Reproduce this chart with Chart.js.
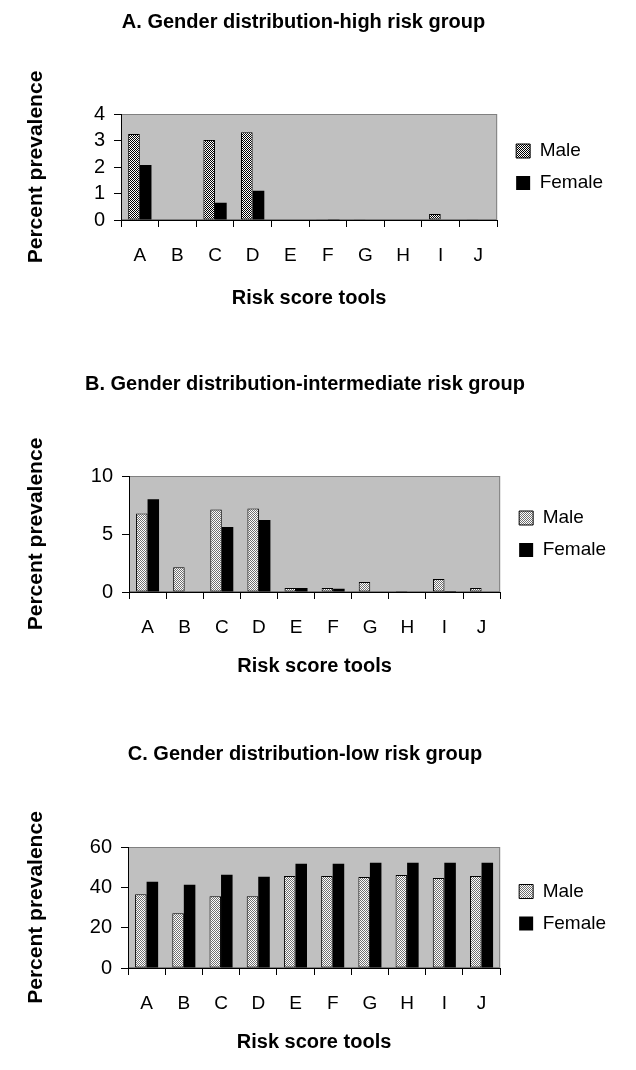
<!DOCTYPE html>
<html>
<head>
<meta charset="utf-8">
<script src="https://cdn.jsdelivr.net/npm/chart.js@4.4.1/dist/chart.umd.min.js"></script>
<style>
body { margin:0; background:#fff; width:636px; height:1070px; position:relative; overflow:hidden; }
canvas { position:absolute; left:0; }
</style>
</head>
<body>
<canvas id="chartA" width="636" height="320" style="top:0px"></canvas>
<canvas id="chartB" width="636" height="352" style="top:340px"></canvas>
<canvas id="chartC" width="636" height="368" style="top:700px"></canvas>
<script>
// risk score tools on the x axis
const tools = ['A', 'B', 'C', 'D', 'E', 'F', 'G', 'H', 'I', 'J'];

// A. high risk group (percent)
const maleHigh   = [3.25, 0, 3.02, 3.31, 0, 0.03, 0.03, 0, 0.23, 0.03];
const femaleHigh = [2.08, 0, 0.65, 1.10, 0, 0.03, 0, 0, 0, 0];

// B. intermediate risk group
const maleMid   = [6.77, 2.14, 7.11, 7.20, 0.34, 0.34, 0.86, 0.08, 1.11, 0.34];
const femaleMid = [8.00, 0, 5.60, 6.20, 0.34, 0.28, 0, 0, 0.08, 0];

// C. low risk group
const maleLow   = [36.6, 27.2, 35.6, 35.6, 45.6, 45.6, 45.1, 46.1, 44.6, 45.6];
const femaleLow = [42.8, 41.3, 46.2, 45.2, 51.7, 51.7, 52.2, 52.2, 52.2, 52.2];

// y axis ticks
const ticksHigh = [0, 1, 2, 3, 4];
const ticksMid  = [0, 5, 10];
const ticksLow  = [0, 20, 40, 60];

const FONT = "'Liberation Sans', Arial, sans-serif";

const plotBg = {
  id: 'plotBg',
  afterLayout(chart) {
    // legend sits a bit further from the plot than chart.js puts it
    chart.legend.left += 6;
    chart.legend.right += 6;
  },
  beforeDraw(chart) {
    const {ctx, chartArea: a} = chart;
    ctx.save();
    ctx.fillStyle = '#c0c0c0';
    ctx.fillRect(a.left, a.top, a.right - a.left, a.bottom - a.top);
    ctx.strokeStyle = '#808080';
    ctx.lineWidth = 1;
    ctx.strokeRect(a.left + 0.5, a.top + 0.5, a.right - a.left - 1, a.bottom - a.top - 1);
    ctx.restore();
  }
};

function checker(ctx, dark, light) {
  const c = document.createElement('canvas');
  c.width = 2; c.height = 2;
  const g = c.getContext('2d');
  g.fillStyle = light; g.fillRect(0, 0, 2, 2);
  g.fillStyle = dark; g.fillRect(0, 0, 1, 1); g.fillRect(1, 1, 1, 1);
  return ctx.createPattern(c, 'repeat');
}

function makeChart(id, title, male, female, yTicks, s) {
  const canvas = document.getElementById(id);
  const ctx = canvas.getContext('2d');
  return new Chart(ctx, {
    type: 'bar',
    data: {
      labels: tools,
      datasets: [
        { label: 'Male', data: male, backgroundColor: checker(ctx, s.dark, '#ffffff'),
          borderColor: '#000', borderWidth: 1, borderSkipped: false },
        { label: 'Female', data: female, backgroundColor: '#000', borderColor: '#000', borderWidth: 0 }
      ]
    },
    options: {
      responsive: false,
      animation: false,
      layout: { padding: { left: 0, right: s.padRight, top: 0, bottom: 0 } },
      datasets: { bar: { barPercentage: 1, categoryPercentage: 0.62 } },
      plugins: {
        title: {
          display: true, text: title, color: '#000',
          font: { family: FONT, size: 20, weight: 'bold' },
          padding: { top: s.titleTop, bottom: s.titleBottom }
        },
        legend: {
          position: 'right', fullSize: false,
          labels: { color: '#000', font: { family: FONT, size: 19 }, boxWidth: 14, boxHeight: 14, padding: 13 }
        },
        tooltip: { enabled: false }
      },
      scales: {
        x: {
          grid: { drawOnChartArea: false, offset: true, tickLength: 7, color: '#000' },
          border: { color: '#000', width: 1 },
          ticks: { color: '#000', font: { family: FONT, size: 19 }, padding: 17, maxRotation: 0 },
          title: { display: true, text: 'Risk score tools', color: '#000',
                   font: { family: FONT, size: 20, weight: 'bold' }, padding: { top: 0, bottom: s.xTitleBottom } },
          afterFit: (scale) => { scale.height = 100; }
        },
        y: {
          min: yTicks[0], max: yTicks[yTicks.length - 1],
          grid: { drawOnChartArea: false, tickLength: 7, color: '#000' },
          border: { color: '#000', width: 1 },
          ticks: { color: '#000', font: { family: FONT, size: 20 }, padding: 9, autoSkip: false,
                   stepSize: yTicks[1] - yTicks[0] },
          title: { display: true, text: 'Percent prevalence', color: '#000',
                   font: { family: FONT, size: 21, weight: 'bold' }, padding: { top: 24, bottom: 0 } },
          afterFit: (scale) => { scale.width = s.left; }
        }
      }
    },
    plugins: [plotBg]
  });
}

makeChart('chartA', 'A. Gender distribution-high risk group', maleHigh, femaleHigh, ticksHigh,
  { dark: '#000000', left: 121, padRight: 29, titleTop: 10, titleBottom: 80, xTitleBottom: 10 });
makeChart('chartB', 'B. Gender distribution-intermediate risk group', maleMid, femaleMid, ticksMid,
  { dark: '#707070', left: 129, padRight: 26, titleTop: 32, titleBottom: 80, xTitleBottom: 14 });
makeChart('chartC', 'C. Gender distribution-low risk group', maleLow, femaleLow, ticksLow,
  { dark: '#707070', left: 128, padRight: 26, titleTop: 42, titleBottom: 81, xTitleBottom: 14 });
</script>
</body>
</html>
